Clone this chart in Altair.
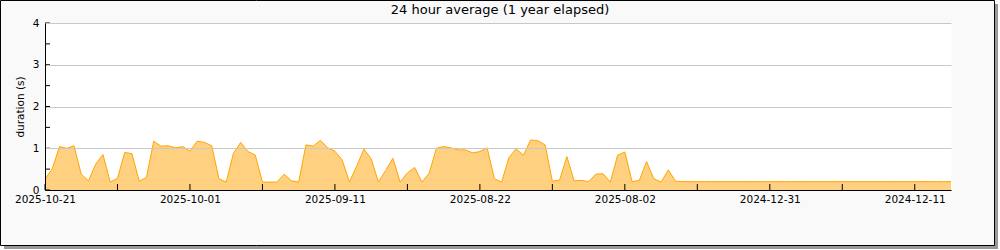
import altair as alt
import pandas as pd

# 24 hour average duration (s), one value per day, newest first
durations = [
    0.26, 0.51, 1.04, 1.00, 1.06, 0.38, 0.22, 0.62, 0.85, 0.19,
    0.28, 0.90, 0.87, 0.21, 0.30, 1.17, 1.05, 1.06, 1.01, 1.04,
    0.93, 1.17, 1.14, 1.06, 0.27, 0.19, 0.88, 1.14, 0.92, 0.84,
    0.19, 0.19, 0.19, 0.38, 0.22, 0.19, 1.08, 1.05, 1.19, 1.01,
    0.93, 0.72, 0.19, 0.57, 0.98, 0.75, 0.19, 0.47, 0.76, 0.19,
    0.41, 0.54, 0.19, 0.40, 1.00, 1.04, 1.01, 0.96, 0.96, 0.89,
    0.92, 1.01, 0.27, 0.19, 0.77, 0.99, 0.83, 1.20, 1.18, 1.08,
    0.21, 0.24, 0.80, 0.22, 0.23, 0.20, 0.38, 0.39, 0.19, 0.83,
    0.91, 0.20, 0.23, 0.68, 0.27, 0.19, 0.48, 0.21, 0.20, 0.20,
    0.20, 0.20, 0.20, 0.20, 0.20, 0.20, 0.20, 0.20, 0.20, 0.20,
    0.20, 0.20, 0.20, 0.20, 0.20, 0.20, 0.20, 0.20, 0.20, 0.20,
    0.20, 0.20, 0.20, 0.20, 0.20, 0.20, 0.20, 0.20, 0.20, 0.20,
    0.20, 0.20, 0.20, 0.20, 0.20, 0.20,
]
tick_positions = [0, 10, 20, 30, 40, 50, 60, 70, 80, 90, 100, 110, 120]
label_positions = [0, 20, 40, 60, 80, 100, 120]
date_labels = ["2025-10-21", "2025-10-01", "2025-09-11", "2025-08-22",
               "2025-08-02", "2024-12-31", "2024-12-11"]
y_grid = [0, 1, 2, 3, 4]
y_minor = [0, 0.5, 1, 1.5, 2, 2.5, 3, 3.5, 4]
title_text = "24 hour average (1 year elapsed)"

FONT = "DejaVu Sans"
W, H = 906, 167

df = pd.DataFrame({"day": list(range(len(durations))), "duration": durations})
one = pd.DataFrame({"k": [0]})

x_scale = alt.Scale(domain=[0, 125], nice=False, zero=False)
y_scale = alt.Scale(domain=[0, 4], nice=False)

label_expr = "".join(
    f"datum.value == {p} ? '{l}' : " for p, l in zip(label_positions, date_labels)
) + "''"

x_axis = alt.Axis(
    values=label_positions, labelExpr=label_expr, ticks=False, grid=False,
    domainColor="black", labelFont=FONT, labelFontSize=10.5, labelColor="black",
    labelPadding=4, labelFlush=False, labelOverlap=False, title="", zindex=1,
)
y_axis = alt.Axis(
    values=y_grid, grid=True, gridColor="#c8c8c8", ticks=False,
    domainColor="black", labelFont=FONT, labelFontSize=10.5, labelColor="black",
    labelPadding=6, title="duration (s)", titleFont=FONT, titleFontSize=10.5,
    titleFontWeight="normal", titleColor="black", titleAngle=270,
    titleX=-25, titleY=H / 2, titleBaseline="middle", titleAlign="center", zindex=1,
)

# outside strips (white) and drop shadow, border of the panel
white_r = alt.Chart(one).mark_rect(fill="white").encode(
    x=alt.value(949.5), x2=alt.value(956), y=alt.value(-24), y2=alt.value(228))
white_b = alt.Chart(one).mark_rect(fill="white").encode(
    x=alt.value(-46), x2=alt.value(956), y=alt.value(222.5), y2=alt.value(228))
shadow_r = alt.Chart(one).mark_rect(fill="#999999").encode(
    x=alt.value(949.5), x2=alt.value(953), y=alt.value(-19), y2=alt.value(226))
shadow_b = alt.Chart(one).mark_rect(fill="#999999").encode(
    x=alt.value(-41), x2=alt.value(953), y=alt.value(222.5), y2=alt.value(226))
border = alt.Chart(one).mark_rect(fillOpacity=0, stroke="black", strokeWidth=1).encode(
    x=alt.value(-44.5), x2=alt.value(949.5), y=alt.value(-22.5), y2=alt.value(222.5))

title = alt.Chart(one).mark_text(
    text=title_text, font=FONT, fontSize=13, color="black", baseline="top", align="center"
).encode(x=alt.value(W / 2 + 2), y=alt.value(-19))

area = alt.Chart(df).mark_area(
    fill="#ffd080", opacity=1, interpolate="linear",
    line={"color": "#ffa500", "strokeWidth": 1},
).encode(
    x=alt.X("day:Q", scale=x_scale, axis=x_axis),
    y=alt.Y("duration:Q", scale=y_scale, axis=y_axis),
)

x_ticks = alt.Chart(pd.DataFrame({"day": tick_positions})).mark_rule(color="black").encode(
    x=alt.X("day:Q", scale=x_scale, axis=x_axis), y=alt.value(H - 6), y2=alt.value(H)
)
y_ticks = alt.Chart(pd.DataFrame({"duration": y_minor})).mark_rule(color="black").encode(
    y=alt.Y("duration:Q", scale=y_scale, axis=y_axis), x=alt.value(0), x2=alt.value(5)
)

chart = alt.layer(white_r, white_b, shadow_r, shadow_b, border, title,
                  area, x_ticks, y_ticks).properties(
    width=W, height=H,
    padding={"left": 45, "top": 23, "right": 49, "bottom": 60},
    autosize=alt.AutoSizeParams(type="none"),
    background="#f9f9f9",
).configure_view(strokeOpacity=0, fill="white")

chart.save("out.html", embed_options={"renderer": "svg", "actions": False})
